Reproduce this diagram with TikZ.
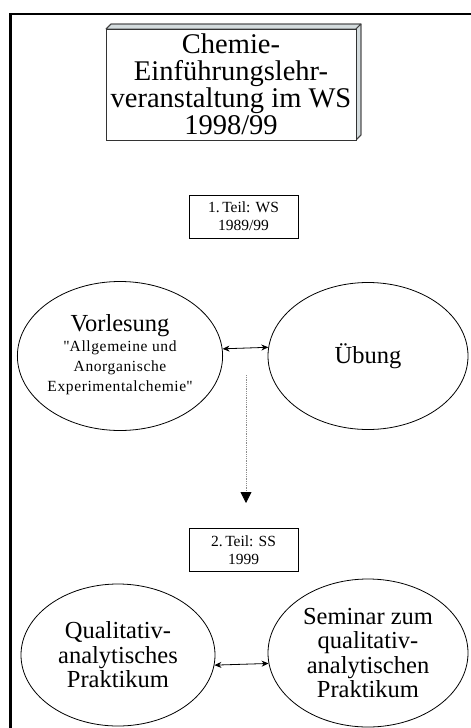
\documentclass[tikz,border=0pt]{standalone}
\usepackage{fontspec}
\setmainfont{Liberation Serif}
\usetikzlibrary{shapes.geometric,arrows.meta,calc}
\tikzset{
  frameline/.style={line width=2.6pt,black},
  bevelface/.style={fill=bevel,draw=black!75,line width=0.8pt,line join=round},
  titlebox/.style={draw=black!80,line width=0.9pt,fill=white,inner sep=0pt,
    align=center,font=\fontsize{28.5}{27}\selectfont},
  partbox/.style={draw,line width=0.8pt,inner sep=0pt,minimum width=109pt,
    minimum height=43pt,align=center,font=\fontsize{15.5}{18}\selectfont},
  oval/.style={ellipse,draw,line width=0.8pt,inner sep=0pt,align=center},
  bigtext/.style={font=\fontsize{24.5}{24.5}\selectfont},
  link/.style={{Stealth[length=7pt,width=6pt]}-{Stealth[length=7pt,width=6pt]},line width=0.8pt},
  flow/.style={densely dotted,draw=black!45,line width=0.8pt,
    -{Triangle[length=11pt,width=11pt,fill=black,color=black]}}
}
\definecolor{bevel}{RGB}{212,220,222}
\newcommand{\subtitle}[1]{{\fontsize{15.5}{20}\selectfont
  \addfontfeatures{LetterSpace=4}\begin{tabular}[t]{@{}c@{}}#1\end{tabular}}}
\begin{document}
\begin{tikzpicture}[x=1pt,y=-1pt]
  \useasboundingbox (0,0) rectangle (471,728);

  % outer frame (top and left rule)
  \draw[frameline] (471,14) -- (10.7,14) -- (10.7,728);

  % raised title card
  \fill[bevelface] (106,29) -- (111,24) -- (361,24) -- (356,29) -- cycle;
  \fill[bevelface] (356,29) -- (361,24) -- (361,135) -- (356,140) -- cycle;
  \draw[black!75,line width=0.8pt] (106,29) -- (111,24) -- (361,24) -- (361,135) -- (356,140);
  \node[titlebox,minimum width=250pt,minimum height=111pt] (title) at (231,84.5)
    {Chemie-\\Einführungslehr-\\veranstaltung im WS\\1998/99};

  % first term
  \node[partbox] (part1) at (243.5,216.5) {1.\,Teil: WS\\1989/99};

  \node[oval,bigtext,minimum width=200pt,minimum height=149pt] (lecture) at (120,356)
    {Vorlesung\\[-4pt]
     \subtitle{\textquotedbl Allgemeine und\\Anorganische\\Experimentalchemie\textquotedbl}};
  \node[oval,bigtext,minimum width=200pt,minimum height=147pt] (exercise) at (368,356) {Übung};
  \draw[link] (lecture.4.6) -- (exercise.175.4);

  % transition to the second term
  \coordinate (flowstart) at (246,375);
  \coordinate (flowend) at (246,503);
  \draw[flow] (flowstart) -- (flowend);

  % second term
  \node[partbox] (part2) at (243.5,550) {2.\,Teil: SS\\1999};

  \node[oval,bigtext,minimum width=194pt,minimum height=142pt] (practical) at (118,655)
    {Qualitativ-\\analytisches\\Praktikum};
  \node[oval,bigtext,minimum width=200pt,minimum height=148pt] (seminar) at (368,653)
    {Seminar zum\\qualitativ-\\analytischen\\Praktikum};
  \draw[link] (practical.-6) -- (seminar.186.5);
\end{tikzpicture}
\end{document}
